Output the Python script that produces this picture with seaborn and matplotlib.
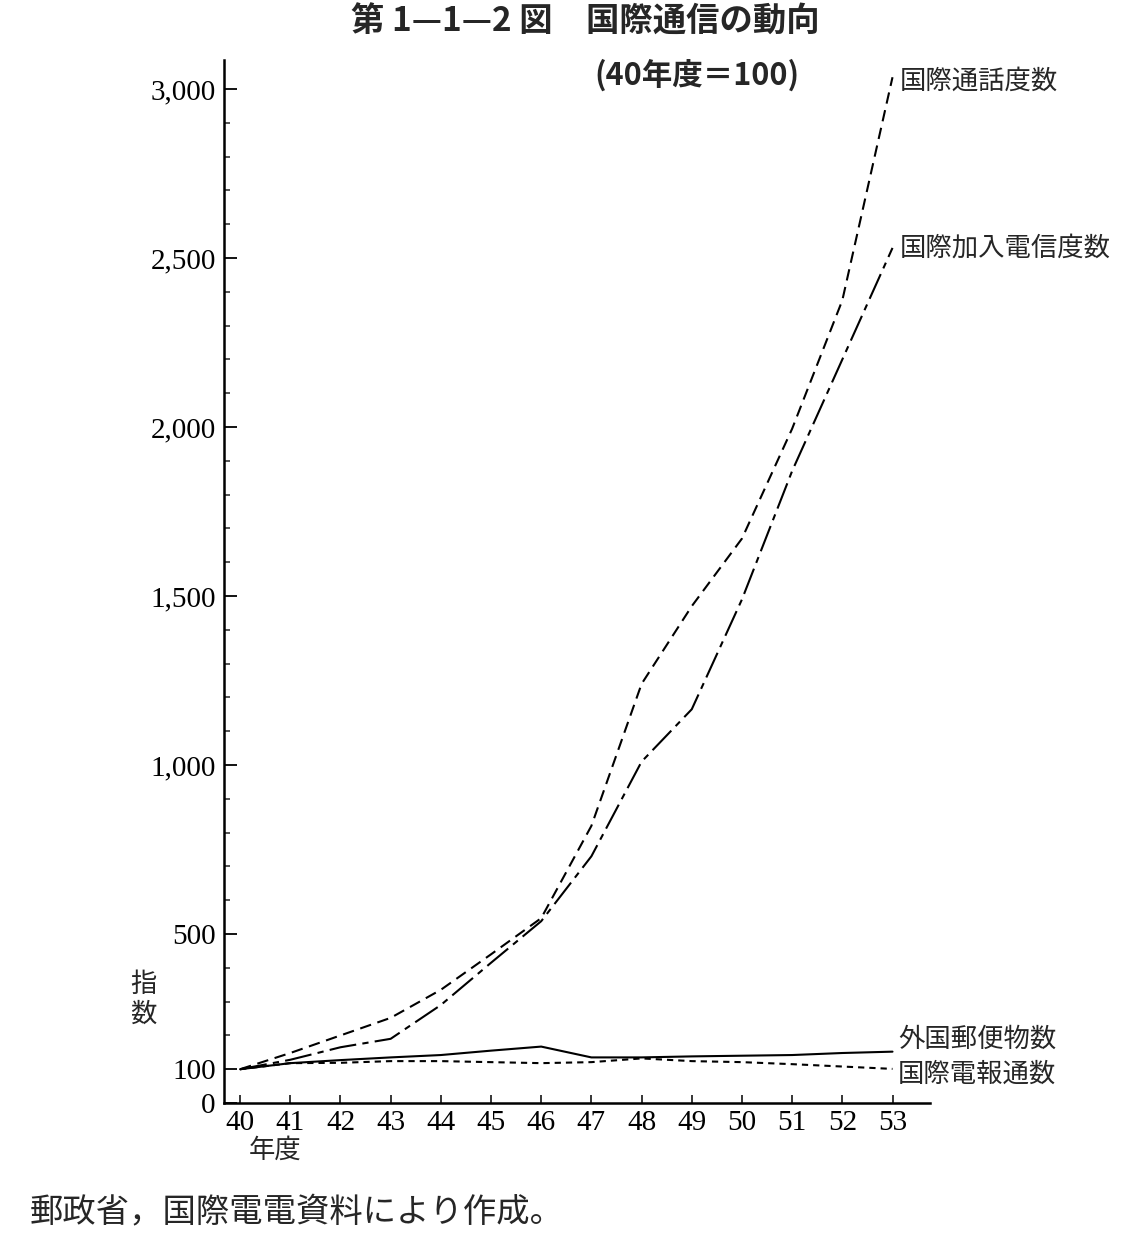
import matplotlib
matplotlib.use("Agg")
import matplotlib.pyplot as plt
from matplotlib.ticker import FixedLocator
import pandas as pd
import seaborn as sns

# 年度 (Showa 40 = 1965) and index values (40年度 = 100)
YEARS = list(range(40, 54))
TEL_CALLS = [100, 148, 200, 252, 335, 440, 547, 820, 1240, 1470, 1670, 1995, 2375, 3035]
TELEX = [100, 128, 165, 190, 290, 415, 538, 730, 1010, 1165, 1490, 1870, 2200, 2530]
MAIL = [100, 118, 127, 135, 142, 155, 167, 135, 135, 138, 140, 142, 148, 152]
TELEGRAM = [100, 118, 119, 124, 124, 121, 118, 121, 132, 124, 121, 115, 108, 101]

SERIES = ["国際通話度数", "国際加入電信度数", "外国郵便物数", "国際電報通数"]
Y_TICKS = [0, 100, 500, 1000, 1500, 2000, 2500, 3000]

JP = ["Noto Sans CJK JP", "DejaVu Sans"]
NUM = ["Liberation Serif", "DejaVu Serif"]

sns.set_theme(style="ticks")
plt.rcParams["font.family"] = JP

df = pd.concat(
    [
        pd.DataFrame({"year": YEARS, "value": vals, "series": name})
        for name, vals in zip(SERIES, [TEL_CALLS, TELEX, MAIL, TELEGRAM])
    ],
    ignore_index=True,
)

fig = plt.figure(figsize=(11.28, 12.37), dpi=100)
ax = fig.add_axes([0.1986, 0.1083, 0.626, 0.8432])

dashes = {
    "国際通話度数": (5.5, 3.2),
    "国際加入電信度数": (13, 3, 3, 3),
    "外国郵便物数": "",
    "国際電報通数": (3, 2.4),
}
sns.lineplot(
    data=df, x="year", y="value", hue="series", style="series",
    palette={s: "black" for s in SERIES}, dashes=dashes,
    linewidth=1.5, legend=False, ax=ax,
)

ax.set_xlim(39.68, 53.75)
ax.set_ylim(0, 3086)
ax.spines["top"].set_visible(False)
ax.spines["right"].set_visible(False)
for sp in ("left", "bottom"):
    ax.spines[sp].set_linewidth(1.8)
    ax.spines[sp].set_color("black")

ax.set_xticks(YEARS)
ax.set_xticklabels([str(y) for y in YEARS], family=NUM, fontsize=21)
ax.set_yticks(Y_TICKS)
ax.set_yticklabels([f"{v:,}" for v in Y_TICKS], family=NUM, fontsize=21)
ax.yaxis.set_minor_locator(FixedLocator([v for v in range(200, 3000, 100) if v not in Y_TICKS]))
ax.tick_params(axis="y", which="major", direction="in", length=9, width=1.3, pad=6, colors="black")
ax.tick_params(axis="y", which="minor", direction="in", length=4.5, width=1.1)
ax.tick_params(axis="x", which="major", direction="in", length=6, width=1.1, pad=5, colors="black")
ax.set_xlabel("")
ax.set_ylabel("")

# line-end labels
label_offsets = {
    "国際通話度数": (5, -3),
    "国際加入電信度数": (5, 0),
    "外国郵便物数": (4, 9),
    "国際電報通数": (4, -4),
}
for name, vals in zip(SERIES, [TEL_CALLS, TELEX, MAIL, TELEGRAM]):
    ax.annotate(name, xy=(YEARS[-1], vals[-1]), xytext=label_offsets[name],
                textcoords="offset points", ha="left", va="center",
                fontsize=19, family=JP, annotation_clip=False)

fig.text(0.519, 0.982, "第 1—1—2 図　国際通信の動向", ha="center", va="center",
         fontsize=24, fontweight="bold", family=JP)
fig.text(0.618, 0.939, "(40年度＝100)", ha="center", va="center",
         fontsize=22, fontweight="bold", family=JP)
fig.text(0.127, 0.192, "指\n数", ha="center", va="center", fontsize=19,
         family=JP, linespacing=1.1)
fig.text(0.244, 0.070, "年度", ha="center", va="center", fontsize=19, family=JP)
fig.text(0.026, 0.020, "郵政省，国際電電資料により作成。", ha="left", va="center",
         fontsize=24, family=JP)

fig.savefig("out.png", dpi=100)
